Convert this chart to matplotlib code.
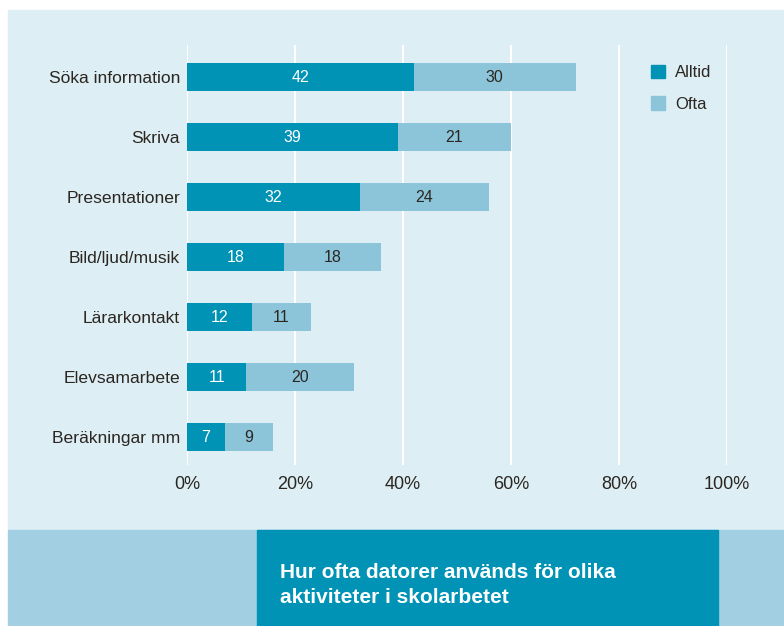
import matplotlib
matplotlib.use("Agg")
import matplotlib.pyplot as plt
from matplotlib.patches import Rectangle, Patch

categories = ["Söka information", "Skriva", "Presentationer", "Bild/ljud/musik",
              "Lärarkontakt", "Elevsamarbete", "Beräkningar mm"]
alltid = [42, 39, 32, 18, 12, 11, 7]
ofta = [30, 21, 24, 18, 11, 20, 9]
xticks = [0, 20, 40, 60, 80, 100]
xticklabels = ["0%", "20%", "40%", "60%", "80%", "100%"]
title = "Hur ofta datorer används för olika\naktiviteter i skolarbetet"

dark = "#0093b6"
light = "#8cc4da"
bg = "#ddeef5"
band = "#a3cfe2"
txt = "#2b2620"

plt.rcParams['font.family'] = ['Liberation Sans', 'DejaVu Sans']

W, H = 784, 626
fig = plt.figure(figsize=(W / 100, H / 100), dpi=100)
fig.patch.set_facecolor("white")

# backgrounds
fig.patches.append(Rectangle((8 / W, 1 - 530 / H), 1, (530 - 10) / H,
                             transform=fig.transFigure, color=bg, zorder=-2))
fig.patches.append(Rectangle((8 / W, 0), 1, 1 - 530 / H,
                             transform=fig.transFigure, color=band, zorder=-2))
fig.patches.append(Rectangle((257 / W, 0), (718 - 257) / W, 1 - 530 / H,
                             transform=fig.transFigure, color=dark, zorder=-1))
fig.text(280 / W, 1 - 585 / H, title, color="white", fontsize=15,
         fontweight="bold", va="center", ha="left", linespacing=1.45)

ax = fig.add_axes([187 / W, 1 - 465 / H, 540 / W, 420 / H])
ax.set_zorder(2)
ax.set_facecolor("none")
y = list(range(len(categories)))
b1 = ax.barh(y, alltid, height=0.48, color=dark, zorder=3)
b2 = ax.barh(y, ofta, left=alltid, height=0.48, color=light, zorder=3)
for t in ax.bar_label(b1, label_type="center", color="white", fontsize=11.5):
    t.set_va("center")
for t in ax.bar_label(b2, label_type="center", color=txt, fontsize=11.5):
    t.set_va("center")

ax.set_xlim(0, 100)
ax.set_ylim(6 + 28 / 60, -32 / 60)
ax.set_yticks(y)
ax.set_yticklabels(categories, fontsize=12.6, color=txt)
ax.set_xticks(xticks)
ax.set_xticklabels(xticklabels, fontsize=13, color=txt)
ax.tick_params(axis="both", length=0)
ax.tick_params(axis="x", pad=8)
ax.tick_params(axis="y", pad=5)
ax.grid(True, axis="x", color="white", linewidth=1.5, zorder=1)
for s in ax.spines.values():
    s.set_visible(False)

handles = [Patch(color=dark, label="Alltid"), Patch(color=light, label="Ofta")]
leg = fig.legend(handles=handles, loc="upper left", bbox_to_anchor=(636 / W, 1 - 50 / H),
                 frameon=False, fontsize=12, handlelength=0.85, handleheight=0.85,
                 handletextpad=0.6, labelspacing=0.95, labelcolor=txt)
leg.set_zorder(3)

fig.savefig("out.png", dpi=100)
